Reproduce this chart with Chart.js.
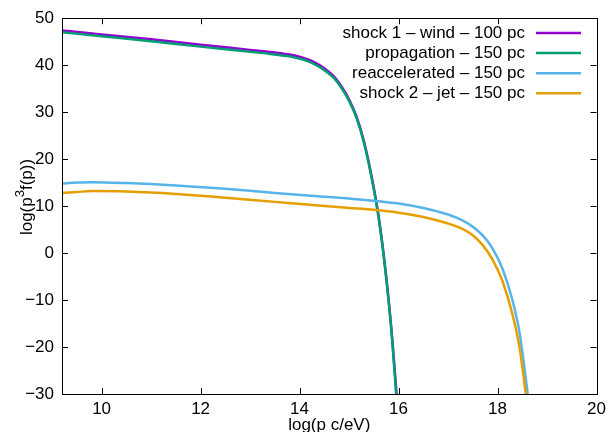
<!DOCTYPE html>
<html>
<head>
<meta charset="utf-8">
<script src="https://cdn.jsdelivr.net/npm/chart.js@4.4.0/dist/chart.umd.min.js"></script>
<style>
  html, body { margin: 0; padding: 0; background: #fff; }
  #wrap { width: 611px; height: 432px; }
</style>
</head>
<body>
<div id="wrap"><canvas id="chart"></canvas></div>
<script>
// tick labels
var xTicks = [10, 12, 14, 16, 18, 20];
var yTicks = [-30, -20, -10, 0, 10, 20, 30, 40, 50];
var xTitle = "log(p c/eV)";

// shock 1 - wind - 100 pc
var shock1X = [9.2, 10, 11, 12, 13, 13.4, 13.7, 13.9, 14.05, 14.2, 14.4, 14.55, 14.7, 14.85, 15.0, 15.15, 15.3, 15.45, 15.6, 15.75, 15.87, 15.96];
var shock1Y = [47.4, 46.55, 45.5, 44.35, 43.25, 42.8, 42.4, 42.05, 41.65, 41.1, 40.0, 38.9, 37.5, 35.4, 32.7, 29.1, 23.8, 16.6, 7.6, -5.0, -18.0, -30];
// propagation - 150 pc
var propX = [9.2, 10, 11, 12, 13, 13.4, 13.7, 13.9, 14.05, 14.2, 14.4, 14.55, 14.7, 14.85, 15.0, 15.15, 15.3, 15.45, 15.6, 15.75, 15.87, 15.95];
var propY = [47.0, 46.15, 45.1, 43.95, 42.85, 42.4, 42.0, 41.65, 41.25, 40.7, 39.65, 38.55, 37.2, 35.1, 32.4, 28.8, 23.5, 16.3, 7.3, -5.3, -18.3, -30];
// reaccelerated - 150 pc
var reaccX = [9.2, 9.5, 9.8, 10.5, 11.5, 12.5, 13.5, 14.5, 15.0, 15.5, 16.0, 16.5, 17.0, 17.3, 17.5, 17.7, 17.9, 18.1, 18.3, 18.45, 18.61];
var reaccY = [14.8, 15.0, 15.1, 14.9, 14.4, 13.7, 12.8, 12.0, 11.6, 11.15, 10.55, 9.6, 8.2, 6.9, 5.6, 3.75, 0.95, -3.35, -10.0, -17.3, -30];
// shock 2 - jet - 150 pc
var shock2X = [9.2, 9.5, 9.8, 10.5, 11.5, 12.5, 13.5, 14.5, 15.0, 15.5, 16.0, 16.5, 17.0, 17.3, 17.5, 17.7, 17.9, 18.1, 18.3, 18.45, 18.57];
var shock2Y = [12.8, 13.0, 13.2, 13.1, 12.6, 11.8, 10.9, 10.0, 9.6, 9.2, 8.6, 7.7, 6.3, 5.1, 3.8, 1.7, -1.4, -6.0, -13.0, -20.5, -30];

function pts(xs, ys) {
    return xs.map(function(x, i) { return { x: x, y: ys[i] }; });
}

var FONT = "'Liberation Sans', Arial, sans-serif";

// gnuplot-like frame with inward ticks on all four sides, the key and the axis labels
var framePlugin = {
    id: "frame",
    afterDatasetsDraw: function(chart) {
        var ctx = chart.ctx, a = chart.chartArea;
        var sx = chart.scales.x, sy = chart.scales.y;
        var tl = 6;
        ctx.save();
        ctx.strokeStyle = "#000";
        ctx.lineWidth = 1;
        ctx.beginPath();
        xTicks.forEach(function(v) {
            var px = Math.round(sx.getPixelForValue(v)) + 0.5;
            ctx.moveTo(px, a.bottom); ctx.lineTo(px, a.bottom - tl);
            ctx.moveTo(px, a.top); ctx.lineTo(px, a.top + tl);
        });
        yTicks.forEach(function(v) {
            var py = Math.round(sy.getPixelForValue(v)) + 0.5;
            ctx.moveTo(a.left, py); ctx.lineTo(a.left + tl, py);
            ctx.moveTo(a.right, py); ctx.lineTo(a.right - tl, py);
        });
        ctx.stroke();
        ctx.strokeRect(Math.round(a.left) + 0.5, Math.round(a.top) + 0.5,
                       Math.round(a.right - a.left), Math.round(a.bottom - a.top));

        // key
        ctx.font = "17px " + FONT;
        ctx.textAlign = "right";
        ctx.textBaseline = "middle";
        chart.data.datasets.forEach(function(ds, i) {
            var y = 33 + i * 20.1;
            ctx.fillStyle = "#000";
            ctx.fillText(ds.label, 525, y);
            ctx.strokeStyle = ds.borderColor;
            ctx.lineWidth = 2.5;
            ctx.beginPath();
            ctx.moveTo(536, y); ctx.lineTo(581, y);
            ctx.stroke();
        });

        // x label
        ctx.textAlign = "center";
        ctx.fillText(xTitle, (a.left + a.right) / 2, 425);

        // y label with superscript
        var big = "17px " + FONT, small = "13px " + FONT;
        var parts = [["log(p", big, 0], ["3", small, -7], ["f(p))", big, 0]];
        var w = 0;
        parts.forEach(function(p) { ctx.font = p[1]; w += ctx.measureText(p[0]).width; });
        ctx.translate(27, 197);
        ctx.rotate(-Math.PI / 2);
        ctx.textAlign = "left";
        var cx = -w / 2;
        parts.forEach(function(p) {
            ctx.font = p[1];
            ctx.fillText(p[0], cx, p[2]);
            cx += ctx.measureText(p[0]).width;
        });
        ctx.restore();
    }
};

function ds(label, color, xs, ys, order) {
    return {
        label: label,
        data: pts(xs, ys),
        borderColor: color,
        backgroundColor: color,
        borderWidth: 2.5,
        pointRadius: 0,
        showLine: true,
        fill: false,
        order: order,
        cubicInterpolationMode: "monotone"
    };
}

var chart = new Chart(document.getElementById("chart"), {
    type: "scatter",
    data: {
        datasets: [
            ds("shock 1 – wind – 100 pc", "#9400d3", shock1X, shock1Y, 4),
            ds("propagation – 150 pc", "#009e73", propX, propY, 3),
            ds("reaccelerated – 150 pc", "#56b4e9", reaccX, reaccY, 2),
            ds("shock 2 – jet – 150 pc", "#e69f00", shock2X, shock2Y, 1)
        ]
    },
    options: {
        responsive: true,
        maintainAspectRatio: false,
        animation: false,
        layout: { padding: { top: 17, right: 12, left: 14, bottom: 0 } },
        plugins: { legend: { display: false }, tooltip: { enabled: false } },
        scales: {
            x: {
                type: "linear",
                min: 9.2,
                max: 20,
                grid: { display: false, drawTicks: false },
                border: { display: false },
                afterBuildTicks: function(s) { s.ticks = xTicks.map(function(v) { return { value: v }; }); },
                afterFit: function(s) { s.height = 38; },
                ticks: { color: "#000", font: { family: FONT, size: 17 }, padding: 5, maxRotation: 0 }
            },
            y: {
                min: -30,
                max: 50,
                grid: { display: false, drawTicks: false },
                border: { display: false },
                afterBuildTicks: function(s) { s.ticks = yTicks.map(function(v) { return { value: v }; }); },
                afterFit: function(s) { s.width = 48; },
                ticks: {
                    color: "#000", font: { family: FONT, size: 17 }, padding: 8,
                    callback: function(v) { return v < 0 ? "\u2212" + Math.abs(v) : String(v); }
                }
            }
        }
    },
    plugins: [framePlugin]
});
</script>
</body>
</html>
